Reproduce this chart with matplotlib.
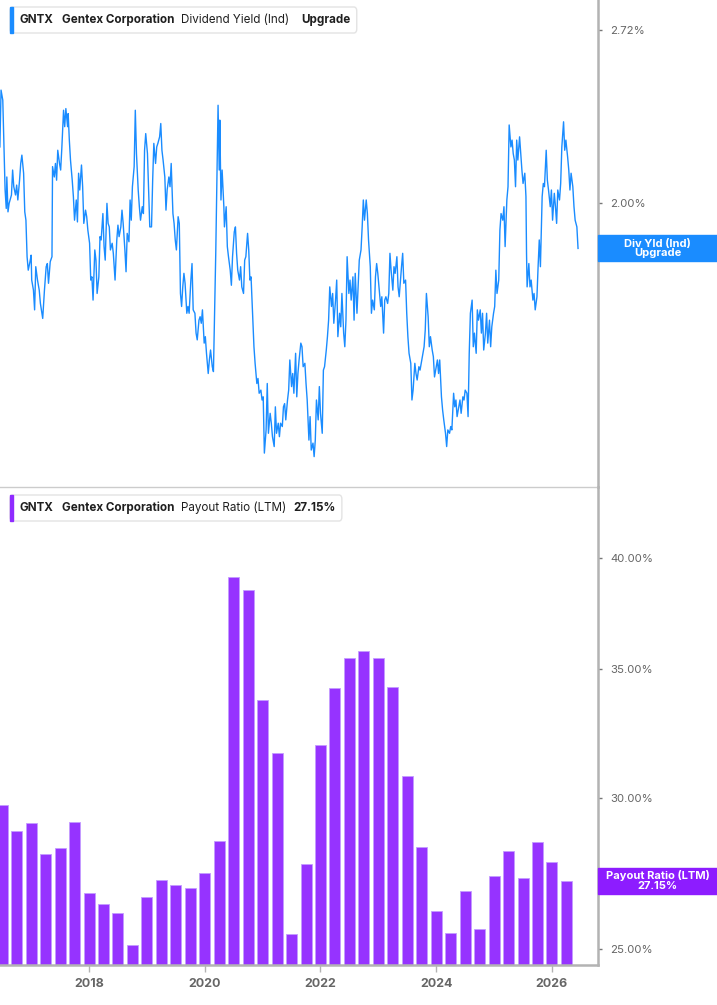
import matplotlib
matplotlib.use("Agg")
import matplotlib.pyplot as plt
from matplotlib.patches import Rectangle, FancyBboxPatch
from matplotlib.ticker import FixedLocator, FuncFormatter, NullLocator

# ---- data ----
div_dates = [
    2016.46, 2016.48, 2016.51, 2016.53, 2016.55, 2016.57, 2016.58, 2016.60, 2016.62, 2016.66,
    2016.68, 2016.70, 2016.73, 2016.75, 2016.77, 2016.80, 2016.82, 2016.84, 2016.87, 2016.89,
    2016.91, 2016.93, 2016.95, 2016.98, 2017.00, 2017.01, 2017.04, 2017.06, 2017.08, 2017.11,
    2017.14, 2017.16, 2017.20, 2017.23, 2017.26, 2017.28, 2017.30, 2017.33, 2017.36, 2017.37,
    2017.40, 2017.42, 2017.44, 2017.46, 2017.49, 2017.51, 2017.53, 2017.56, 2017.58, 2017.60,
    2017.63, 2017.64, 2017.66, 2017.68, 2017.71, 2017.73, 2017.75, 2017.78, 2017.80, 2017.82,
    2017.84, 2017.87, 2017.89, 2017.91, 2017.94, 2017.96, 2017.98, 2018.01, 2018.03, 2018.05,
    2018.07, 2018.10, 2018.12, 2018.14, 2018.17, 2018.19, 2018.21, 2018.24, 2018.26, 2018.28,
    2018.31, 2018.33, 2018.35, 2018.37, 2018.40, 2018.42, 2018.45, 2018.48, 2018.50, 2018.52,
    2018.55, 2018.57, 2018.59, 2018.62, 2018.64, 2018.66, 2018.69, 2018.71, 2018.73, 2018.75,
    2018.78, 2018.80, 2018.82, 2018.85, 2018.87, 2018.89, 2018.92, 2018.94, 2018.96, 2018.98,
    2019.01, 2019.03, 2019.05, 2019.08, 2019.10, 2019.12, 2019.15, 2019.17, 2019.19, 2019.22,
    2019.24, 2019.26, 2019.28, 2019.31, 2019.33, 2019.35, 2019.38, 2019.40, 2019.42, 2019.45,
    2019.47, 2019.49, 2019.51, 2019.54, 2019.56, 2019.58, 2019.60, 2019.62, 2019.64, 2019.66,
    2019.69, 2019.71, 2019.73, 2019.76, 2019.78, 2019.80, 2019.83, 2019.85, 2019.87, 2019.90,
    2019.92, 2019.94, 2019.96, 2019.99, 2020.01, 2020.03, 2020.06, 2020.08, 2020.10, 2020.13,
    2020.15, 2020.17, 2020.19, 2020.21, 2020.23, 2020.25, 2020.26, 2020.28, 2020.30, 2020.33,
    2020.34, 2020.37, 2020.39, 2020.41, 2020.44, 2020.46, 2020.48, 2020.51, 2020.53, 2020.55,
    2020.57, 2020.60, 2020.62, 2020.64, 2020.67, 2020.69, 2020.71, 2020.74, 2020.76, 2020.78,
    2020.80, 2020.83, 2020.85, 2020.87, 2020.90, 2020.92, 2020.94, 2020.97, 2020.99, 2021.01,
    2021.03, 2021.06, 2021.08, 2021.10, 2021.13, 2021.15, 2021.17, 2021.20, 2021.22, 2021.24,
    2021.27, 2021.29, 2021.31, 2021.34, 2021.36, 2021.38, 2021.40, 2021.43, 2021.45, 2021.47,
    2021.50, 2021.52, 2021.54, 2021.57, 2021.59, 2021.61, 2021.63, 2021.66, 2021.68, 2021.70,
    2021.73, 2021.75, 2021.77, 2021.80, 2021.82, 2021.84, 2021.87, 2021.89, 2021.91, 2021.93,
    2021.96, 2021.98, 2022.00, 2022.03, 2022.05, 2022.07, 2022.10, 2022.12, 2022.14, 2022.16,
    2022.19, 2022.21, 2022.23, 2022.26, 2022.28, 2022.30, 2022.33, 2022.35, 2022.37, 2022.40,
    2022.42, 2022.44, 2022.46, 2022.49, 2022.51, 2022.53, 2022.56, 2022.58, 2022.60, 2022.63,
    2022.65, 2022.67, 2022.70, 2022.72, 2022.74, 2022.76, 2022.79, 2022.81, 2022.83, 2022.86,
    2022.88, 2022.90, 2022.93, 2022.95, 2022.97, 2022.99, 2023.02, 2023.04, 2023.06, 2023.09,
    2023.11, 2023.13, 2023.16, 2023.18, 2023.20, 2023.22, 2023.25, 2023.27, 2023.29, 2023.32,
    2023.34, 2023.36, 2023.40, 2023.42, 2023.44, 2023.47, 2023.49, 2023.51, 2023.53, 2023.56,
    2023.58, 2023.60, 2023.63, 2023.65, 2023.67, 2023.70, 2023.72, 2023.74, 2023.77, 2023.79,
    2023.81, 2023.83, 2023.86, 2023.88, 2023.90, 2023.93, 2023.95, 2023.97, 2024.00, 2024.02,
    2024.04, 2024.06, 2024.09, 2024.11, 2024.13, 2024.16, 2024.18, 2024.20, 2024.23, 2024.25,
    2024.27, 2024.30, 2024.32, 2024.34, 2024.36, 2024.39, 2024.41, 2024.43, 2024.46, 2024.48,
    2024.50, 2024.53, 2024.55, 2024.57, 2024.59, 2024.62, 2024.64, 2024.66, 2024.69, 2024.71,
    2024.73, 2024.76, 2024.78, 2024.80, 2024.82, 2024.85, 2024.87, 2024.89, 2024.92, 2024.94,
    2024.96, 2024.99, 2025.01, 2025.03, 2025.05, 2025.08, 2025.10, 2025.12, 2025.15, 2025.17,
    2025.19, 2025.22, 2025.24, 2025.26, 2025.29, 2025.31, 2025.33, 2025.35, 2025.37, 2025.39,
    2025.41, 2025.44, 2025.46, 2025.48, 2025.50, 2025.53, 2025.55, 2025.56, 2025.57, 2025.60,
    2025.62, 2025.64, 2025.67, 2025.69, 2025.71, 2025.74, 2025.76, 2025.78, 2025.80, 2025.83,
    2025.85, 2025.87, 2025.90, 2025.92, 2025.94, 2025.97, 2025.99, 2026.01, 2026.04, 2026.06,
    2026.08, 2026.10, 2026.13, 2026.15, 2026.17, 2026.20, 2026.22, 2026.24, 2026.27, 2026.29,
    2026.31, 2026.33, 2026.36, 2026.38, 2026.40, 2026.43, 2026.45,
]
div_yield = [
    2.210, 2.445, 2.402, 2.224, 2.047, 1.981, 2.095, 1.969, 1.999, 2.029,
    2.121, 2.059, 2.029, 2.065, 2.011, 2.083, 2.146, 2.178, 2.109, 1.969,
    1.940, 1.818, 1.775, 1.802, 1.823, 1.744, 1.713, 1.654, 1.786, 1.744,
    1.713, 1.673, 1.629, 1.713, 1.786, 1.796, 1.734, 1.802, 1.818, 2.134,
    2.095, 2.146, 2.083, 2.197, 2.146, 2.121, 2.204, 2.359, 2.291, 2.366,
    2.291, 2.345, 2.237, 2.159, 2.083, 2.023, 1.940, 2.011, 1.934, 2.109,
    2.047, 2.140, 2.059, 1.929, 1.975, 1.952, 1.906, 1.862, 1.744, 1.754,
    1.683, 1.840, 1.807, 1.703, 1.754, 1.884, 1.873, 1.963, 1.851, 1.807,
    1.999, 1.929, 1.917, 1.840, 1.862, 1.829, 1.744, 1.873, 1.923, 1.884,
    1.917, 1.975, 1.929, 1.840, 1.770, 1.895, 1.867, 2.011, 1.940, 2.059,
    2.134, 2.359, 2.184, 2.047, 1.987, 1.940, 1.987, 1.963, 2.197, 2.263,
    2.184, 2.047, 1.917, 1.917, 2.083, 2.224, 2.146, 2.210, 2.224, 2.250,
    2.304, 2.197, 2.159, 2.095, 1.975, 2.047, 2.095, 2.059, 2.146, 1.963,
    1.929, 1.873, 1.840, 1.952, 1.929, 1.703, 1.664, 1.723, 1.765, 1.734,
    1.644, 1.664, 1.644, 1.744, 1.796, 1.654, 1.644, 1.587, 1.568, 1.624,
    1.634, 1.615, 1.654, 1.559, 1.577, 1.531, 1.477, 1.513, 1.540, 1.495,
    1.482, 1.644, 1.829, 2.095, 2.380, 2.121, 2.318, 2.011, 2.121, 1.987,
    1.917, 1.987, 1.851, 1.818, 1.775, 1.728, 1.818, 1.900, 1.917, 1.829,
    1.775, 1.744, 1.786, 1.723, 1.703, 1.807, 1.818, 1.895, 1.840, 1.744,
    1.754, 1.629, 1.549, 1.504, 1.451, 1.464, 1.426, 1.434, 1.409, 1.417,
    1.282, 1.336, 1.451, 1.328, 1.376, 1.352, 1.320, 1.297, 1.392, 1.328,
    1.352, 1.320, 1.352, 1.344, 1.392, 1.400, 1.360, 1.409, 1.434, 1.513,
    1.443, 1.477, 1.426, 1.531, 1.417, 1.477, 1.513, 1.559, 1.549, 1.495,
    1.504, 1.451, 1.409, 1.312, 1.368, 1.289, 1.305, 1.274, 1.312, 1.409,
    1.360, 1.443, 1.376, 1.328, 1.486, 1.495, 1.540, 1.577, 1.624, 1.723,
    1.664, 1.703, 1.615, 1.683, 1.744, 1.577, 1.644, 1.605, 1.703, 1.587,
    1.549, 1.624, 1.818, 1.703, 1.744, 1.683, 1.754, 1.624, 1.765, 1.644,
    1.723, 1.807, 1.840, 1.917, 2.011, 1.940, 2.011, 1.963, 1.873, 1.786,
    1.644, 1.683, 1.654, 1.754, 1.796, 1.765, 1.703, 1.664, 1.693, 1.587,
    1.683, 1.693, 1.673, 1.703, 1.829, 1.775, 1.713, 1.786, 1.765, 1.818,
    1.723, 1.693, 1.786, 1.829, 1.734, 1.744, 1.644, 1.577, 1.531, 1.504,
    1.409, 1.434, 1.504, 1.477, 1.460, 1.495, 1.486, 1.504, 1.531, 1.549,
    1.596, 1.703, 1.634, 1.549, 1.577, 1.540, 1.522, 1.468, 1.495, 1.513,
    1.477, 1.513, 1.417, 1.384, 1.360, 1.328, 1.297, 1.336, 1.328, 1.344,
    1.336, 1.426, 1.392, 1.409, 1.368, 1.392, 1.409, 1.376, 1.417, 1.409,
    1.434, 1.426, 1.368, 1.531, 1.644, 1.683, 1.549, 1.587, 1.531, 1.654,
    1.624, 1.654, 1.587, 1.644, 1.540, 1.587, 1.644, 1.559, 1.624, 1.549,
    1.605, 1.644, 1.664, 1.775, 1.703, 1.744, 1.906, 1.963, 1.940, 1.987,
    1.851, 2.011, 2.059, 2.298, 2.210, 2.237, 2.184, 2.159, 2.059, 2.237,
    2.159, 2.250, 2.184, 2.121, 2.071, 2.109, 2.023, 1.829, 1.723, 1.796,
    1.723, 1.744, 1.683, 1.703, 1.654, 1.693, 1.786, 1.873, 1.786, 2.023,
    2.071, 2.059, 2.197, 2.083, 2.047, 1.987, 2.047, 1.940, 2.035, 1.987,
    1.929, 2.047, 2.011, 2.071, 2.210, 2.311, 2.197, 2.237, 2.171, 2.121,
    2.047, 2.109, 2.059, 1.987, 1.940, 1.917, 1.845,
]

# quarterly payout ratio (LTM), %
payout_quarters = [2016.5 + 0.25 * i for i in range(40)]
payout_ratio = [
    29.73, 28.82, 29.10, 28.04, 28.24, 29.14, 26.75, 26.39, 26.12, 25.14,
    26.63, 27.18, 27.01, 26.92, 27.40, 28.48, 39.10, 38.50, 33.72, 31.65,
    25.45, 27.70, 31.96, 34.22, 35.48, 35.78, 35.48, 34.26, 30.79, 28.26,
    26.17, 25.48, 26.81, 25.62, 27.30, 28.12, 27.23, 28.45, 27.78, 27.15,
]

year_ticks = [2018, 2020, 2022, 2024, 2026]
div_ticks = [2.00, 2.72]
payout_ticks = [25, 30, 35, 40]

BLUE = "#1a8cff"
PURPLE = "#9633ff"
PURPLE_TAG = "#8d1cff"
GRID_GREY = "#b3b3b3"
TXT_GREY = "#666666"

plt.rcParams["font.family"] = ["Inter", "DejaVu Sans"]

W, H = 717, 1005
fig = plt.figure(figsize=(W / 100, H / 100), dpi=100)

def fx(px):
    return px / W

def fy(py):
    return 1 - py / H

right_px = 598
ax1 = fig.add_axes([0, fy(487), fx(right_px), (487) / H])
ax2 = fig.add_axes([0, fy(965), fx(right_px), (965 - 487) / H])

xmin, xmax = 2016.462, 2026.795

# --- top panel: dividend yield ---
ax1.plot(div_dates, div_yield, color=BLUE, lw=1.0)
ax1.set_yscale("log")
ax1.set_ylim(1.207, 2.870)
ax1.set_xlim(xmin, xmax)

# --- bottom panel: payout ratio bars ---
base = 24.53
ax2.set_yscale("log")
ax2.bar(payout_quarters, [v - base for v in payout_ratio], bottom=base, width=0.19,
        color=PURPLE, edgecolor="#c39cff", linewidth=0.6)
ax2.set_ylim(base, 43.59)
ax2.set_xlim(xmin, xmax)

for ax, ticks in ((ax1, div_ticks), (ax2, payout_ticks)):
    ax.yaxis.tick_right()
    ax.yaxis.set_major_locator(FixedLocator(ticks))
    ax.yaxis.set_minor_locator(NullLocator())
    ax.yaxis.set_major_formatter(FuncFormatter(lambda v, p: f"{v:.2f}%"))
    ax.tick_params(axis="y", length=3, width=1, color="#777777", pad=6,
                   labelsize=8.2, labelcolor=TXT_GREY)
    for s in ("left", "top"):
        ax.spines[s].set_visible(False)
    ax.spines["right"].set_color(GRID_GREY)
    ax.spines["right"].set_linewidth(1.8)
    ax.spines["bottom"].set_color("#cccccc")
    ax.spines["bottom"].set_linewidth(1.0)
    ax.set_facecolor("none")

ax1.tick_params(axis="x", bottom=False, labelbottom=False)
ax2.spines["bottom"].set_color(GRID_GREY)
ax2.spines["bottom"].set_linewidth(1.8)
ax2.set_xticks(year_ticks)
ax2.set_xticklabels([str(y) for y in year_ticks])
ax2.tick_params(axis="x", length=5, width=1, color=GRID_GREY, pad=4,
                labelsize=9, labelcolor=TXT_GREY)
for lbl in ax2.get_xticklabels():
    lbl.set_fontweight("bold")

# --- right-side value tags placed at the last value ---
def value_tag(ax, value, text, color, height_px, ax_h_px):
    frac = (ax.transAxes.inverted().transform(ax.transData.transform((xmax, value))))[1]
    hf = height_px / ax_h_px
    ax.add_patch(Rectangle((1.0, frac - hf / 2), (W - right_px) / right_px, hf,
                           transform=ax.transAxes, color=color, clip_on=False, zorder=5))
    ax.text(1.0 + (W - right_px) / right_px / 2, frac, text, transform=ax.transAxes,
            ha="center", va="center", color="white", fontsize=8.0, fontweight="bold",
            linespacing=0.95, zorder=6, clip_on=False)

value_tag(ax1, div_yield[-1], "Div Yld (Ind)\nUpgrade", BLUE, 26, 487)
value_tag(ax2, payout_ratio[-1], "Payout Ratio (LTM)\n27.15%", PURPLE_TAG, 26, 478)

# --- legend boxes (top-left of each panel), texts laid out one after another ---
renderer = fig.canvas.get_renderer()

def legend_box(y_top, color, parts):
    x = 20
    for s, w, gap in parts:
        t = fig.text(fx(x), fy(y_top + 13), s, fontsize=8.4, fontweight=w,
                     color="#1f1f1f", ha="left", va="center", zorder=12)
        x += t.get_window_extent(renderer).width + gap
    x_right = x + 6
    fig.patches.append(FancyBboxPatch((fx(10), fy(y_top + 26)), fx(x_right) - fx(10), 26 / H,
                                      boxstyle="round,pad=0,rounding_size=0.004",
                                      transform=fig.transFigure, facecolor="white",
                                      edgecolor="#e3e3e3", linewidth=1.0, zorder=10))
    fig.patches.append(Rectangle((fx(10), fy(y_top + 26)), fx(3), 26 / H,
                                 transform=fig.transFigure, color=color, zorder=11))

legend_box(7, BLUE, [("GNTX", "bold", 8), ("Gentex Corporation", "bold", 7),
                     ("Dividend Yield (Ind)", "normal", 12), ("Upgrade", "bold", 0)])
legend_box(495, "#8f2bff", [("GNTX", "bold", 8), ("Gentex Corporation", "bold", 7),
                            ("Payout Ratio (LTM)", "normal", 7), ("27.15%", "bold", 0)])

fig.savefig("out.png", dpi=100, facecolor="white")
